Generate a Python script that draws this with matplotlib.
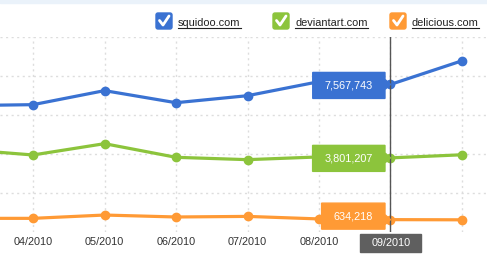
import matplotlib
matplotlib.use('Agg')
import matplotlib.pyplot as plt
from matplotlib.patches import Polygon, FancyBboxPatch, Rectangle
from matplotlib.lines import Line2D
from matplotlib.transforms import IdentityTransform

# monthly values
months = ['03/2010', '04/2010', '05/2010', '06/2010', '07/2010', '08/2010', '09/2010', '10/2010']
squidoo = [6480000, 6530000, 7250000, 6630000, 6990000, 7710000, 7567743, 8780000]
deviantart = [4240000, 3950000, 4530000, 3830000, 3710000, 3850000, 3801207, 3960000]
delicious = [700000, 700000, 870000, 770000, 800000, 670000, 634218, 625000]

names = ['squidoo.com', 'deviantart.com', 'delicious.com']
colors = ['#3a72d2', '#8cc43c', '#ff9a35']
series = [squidoo, deviantart, delicious]
sel = 6  # highlighted month

plt.rcParams['font.family'] = ['Liberation Sans', 'DejaVu Sans']
W, H = 487, 256
fig = plt.figure(figsize=(W / 100, H / 100), dpi=100)
fig.patches.append(Rectangle((0, H - 3), W, 3, transform=IdentityTransform(),
                             color='#eaf2fa', zorder=0))

ax = fig.add_axes([0, 24 / H, 1, 195 / H])
for s in ax.spines.values():
    s.set_visible(False)
ax.set_xticks(range(len(months)))
ax.set_yticks([2e6, 4e6, 6e6, 8e6, 10e6])
ax.set_xlim(0.538, 7.35)
ax.set_ylim(0, 10000000)
ax.tick_params(length=0, labelleft=False, labelbottom=False)
ax.grid(True, color='#dddddd', linestyle=(0, (1.5, 2.5)), linewidth=1)

x = list(range(len(months)))
for vals, c in zip(series, colors):
    ax.plot(x, vals, color=c, linewidth=2.3, marker='o', markersize=6,
            solid_capstyle='round', zorder=3)

# month labels
for i, m in enumerate(months):
    if i == 0 or i >= sel:
        continue
    ax.annotate(m, xy=(i, 0), xycoords='data', xytext=(0, -10),
                textcoords='offset pixels', ha='center', va='center',
                fontsize=7.8, color='#333333')

# crosshair
ax.axvline(sel, color='#555555', linewidth=1, zorder=4)

fig.canvas.draw()
r = fig.canvas.get_renderer()

# highlighted month label
px, _ = ax.transData.transform((sel, 0))
t = fig.text(px + 0.5, H - 243, months[sel], transform=IdentityTransform(), ha='center',
             va='center', fontsize=7.8, color='white', zorder=6)
fig.patches.append(Rectangle((px - 30, H - 252), 61, 18, transform=IdentityTransform(),
                             color='#5f5f5f', zorder=5))

# value tooltips
shifts = [1, 0.5, -3.5]
for vals, c, sh in zip(series, colors, shifts):
    px, py = ax.transData.transform((sel, vals[sel]))
    label = format(vals[sel], ',')
    cy = py - sh
    t = fig.text(0, cy, label, transform=IdentityTransform(), ha='center', va='center',
                 fontsize=7.8, color='white', zorder=8)
    tw = t.get_window_extent(r).width
    bw = tw + 24
    right = px - 5.5
    left = right - bw
    t.set_x((left + right) / 2)
    poly = [(left, cy - 13), (right, cy - 13), (right, py - 5), (px, py),
            (right, py + 5), (right, cy + 13), (left, cy + 13)]
    fig.patches.append(Polygon(poly, closed=True, transform=IdentityTransform(),
                               color=c, zorder=7))

# legend
boxes = [156, 273, 390]
for bx, name, c in zip(boxes, names, colors):
    by = H - 29
    fig.patches.append(FancyBboxPatch((bx, by), 16, 16, boxstyle='round,pad=0,rounding_size=2',
                                      transform=IdentityTransform(), color=c, zorder=5))
    fig.lines.append(Line2D([bx + 3.5, bx + 7, bx + 13], [by + 8.5, by + 4, by + 13],
                            color='white', linewidth=2, transform=IdentityTransform(),
                            solid_capstyle='round', zorder=6))
    t = fig.text(bx + 22, H - 26, name, transform=IdentityTransform(), ha='left',
                 va='baseline', fontsize=7.9, color='#222222')
    tw = t.get_window_extent(r).width
    fig.lines.append(Line2D([bx + 22, bx + 22 + tw], [H - 28, H - 28], color='#222222',
                            linewidth=0.8, transform=IdentityTransform()))

fig.savefig('out.png', dpi=100)
